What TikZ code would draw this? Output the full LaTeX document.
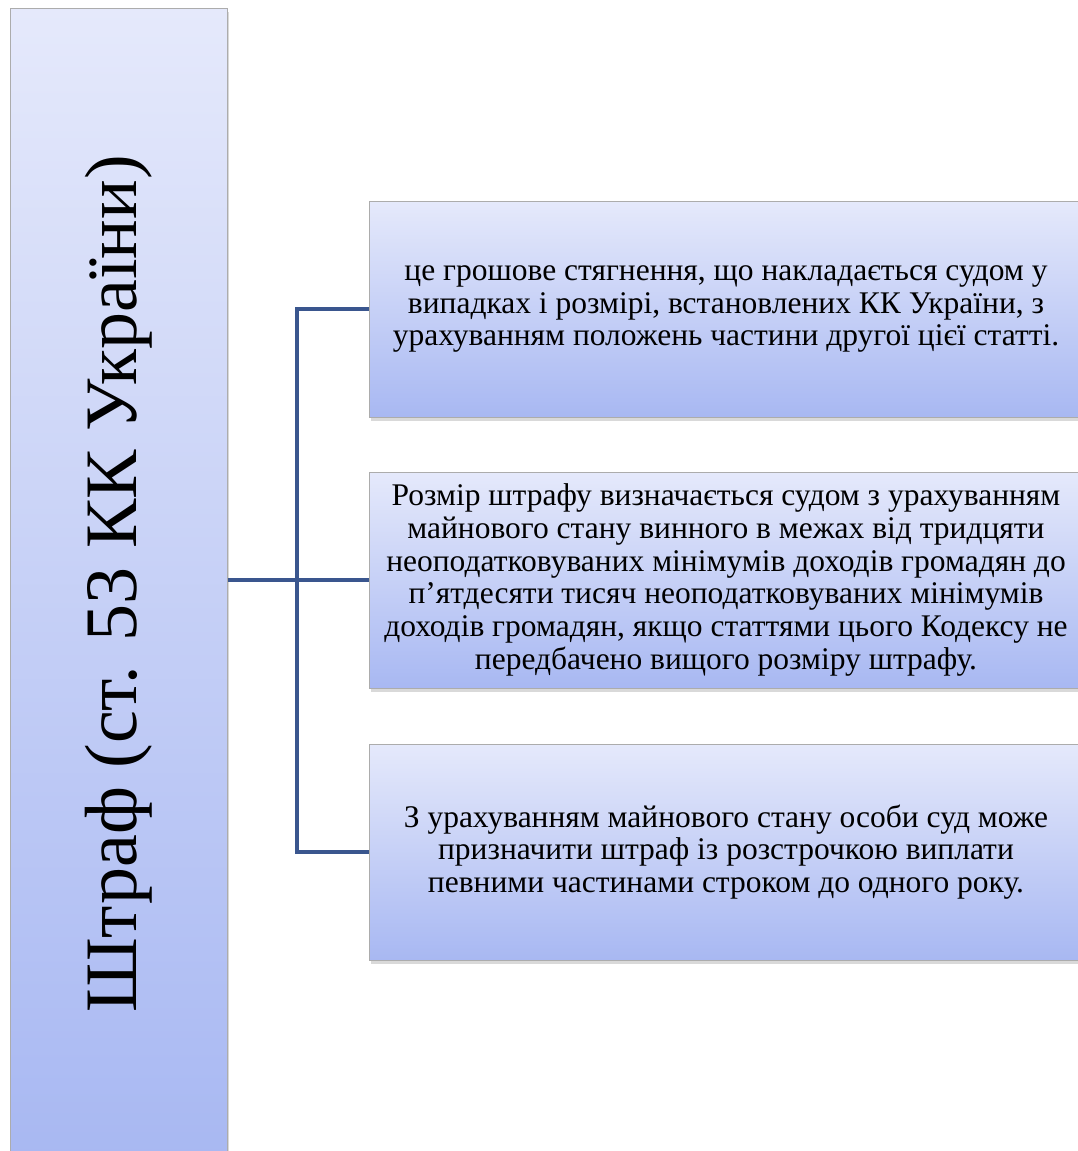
\documentclass[tikz,border=0pt]{standalone}
\usepackage{fontspec}
\setmainfont{Liberation Serif}
\usetikzlibrary{shadows}

\definecolor{boxtop}{RGB}{229,233,251}
\definecolor{boxbottom}{RGB}{168,184,242}
\definecolor{linkblue}{RGB}{58,86,142}

\begin{document}
\begin{tikzpicture}[x=1pt, y=-1pt,
  panel/.style={draw=gray!65, line width=1pt, top color=boxtop, bottom color=boxbottom,
    drop shadow={shadow xshift=1.5pt, shadow yshift=-3.5pt, opacity=0.3, fill=gray},
    inner sep=0pt, align=center},
  note/.style={panel, minimum width=714pt, minimum height=216pt,
    font=\fontsize{31.5}{32.8}\selectfont},
  link/.style={draw=linkblue, line width=3.5pt}]

\useasboundingbox (0,0) rectangle (1078,1151);

% ---------- (A) title column ----------
\node[panel, minimum width=217pt, minimum height=1152pt,
  font=\fontsize{74}{80}\selectfont] (shtraf) at (118.5,584)
  {\rotatebox{90}{Штраф (ст. 53 КК України)}};

% ---------- (B) definitions ----------
\node[note] (def) at (726,309) {це грошове стягнення, що накладається судом у\\
  випадках і розмірі, встановлених КК України, з\\
  урахуванням положень частини другої цієї статті.};
\node[note] (size) at (726,580) {Розмір штрафу визначається судом з урахуванням\\
  майнового стану винного в межах від тридцяти\\
  неоподатковуваних мінімумів доходів громадян до\\
  п’ятдесяти тисяч неоподатковуваних мінімумів\\
  доходів громадян, якщо статтями цього Кодексу не\\
  передбачено вищого розміру штрафу.};
\node[note] (pay) at (726,852) {З урахуванням майнового стану особи суд може\\
  призначити штраф із розстрочкою виплати\\
  певними частинами строком до одного року.};

% ---------- (C) connectors ----------
\coordinate (fork) at (297,580);
\draw[link] (def.west) -| (fork) |- (pay.west);
\draw[link] (shtraf.east |- fork) -- (size.west);

\end{tikzpicture}
\end{document}
